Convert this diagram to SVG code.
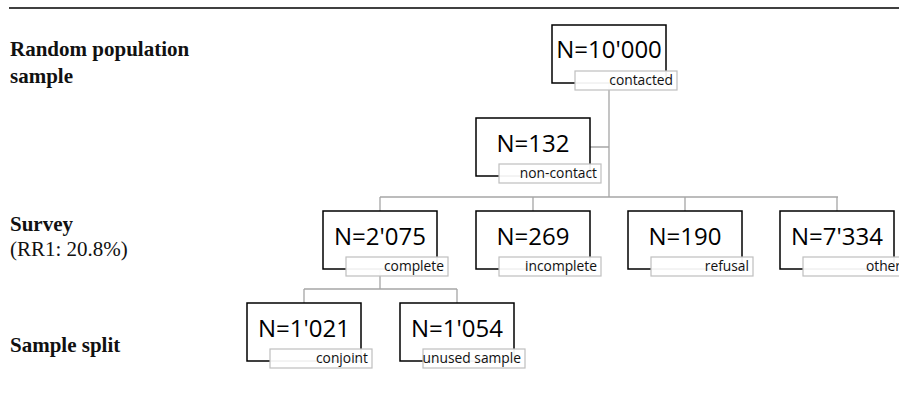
<svg xmlns="http://www.w3.org/2000/svg" width="899" height="406" viewBox="0 0 899 406">
<style>
.bg{fill:#fff}
.box{fill:#fff;stroke:#000;stroke-width:1.5}
.lab{fill:#fff;fill-opacity:0.94;stroke:#bfbfbf;stroke-width:1.2}
.n{font-family:"Open Sans","Liberation Sans",sans-serif;font-size:24px;fill:#000;text-anchor:middle}
.lt{font-family:"Open Sans","Liberation Sans",sans-serif;font-size:13.8px;fill:#111;text-anchor:end}
.side{font-family:"Liberation Serif",serif;font-size:21px;fill:#111}
.b{font-weight:bold}
.con{fill:none;stroke:#a6a6a6;stroke-width:1.3}
</style>
<rect class="bg" x="0" y="0" width="899" height="406"/>
<line x1="9" y1="8" x2="899" y2="8" stroke="#000" stroke-width="1.5"/>
<g id="side-labels">
<text class="side b" x="10" y="56">Random population</text>
<text class="side b" x="10" y="83">sample</text>
<text class="side b" x="10" y="231">Survey</text>
<text class="side" x="10" y="256">(RR1: 20.8%)</text>
<text class="side b" x="10" y="352">Sample split</text>
</g>
<g id="connectors">
<path class="con" d="M609 83 V197 M590 147 H609 M380 197 H838 M380 197 V211 M533 197 V211 M685 197 V211 M837 197 V211"/>
<path class="con" d="M380 269 V289 M304 289 H457 M304 289 V303 M457 289 V303"/>
</g>
<g id="node-contacted">
<rect class="box" x="552" y="25" width="114" height="58"/>
<text class="n" x="609" y="58">N=10'000</text>
<rect class="lab" x="575" y="71" width="102" height="19"/>
<text class="lt" x="673" y="85">contacted</text>
</g>
<g id="node-noncontact">
<rect class="box" x="476" y="118" width="114" height="58"/>
<text class="n" x="533" y="152">N=132</text>
<rect class="lab" x="499" y="164" width="102" height="19"/>
<text class="lt" x="597" y="178">non-contact</text>
</g>
<g id="node-complete">
<rect class="box" x="323" y="211" width="114" height="58"/>
<text class="n" x="380" y="245">N=2'075</text>
<rect class="lab" x="346" y="257" width="102" height="19"/>
<text class="lt" x="444" y="271">complete</text>
</g>
<g id="node-incomplete">
<rect class="box" x="476" y="211" width="114" height="58"/>
<text class="n" x="533" y="245">N=269</text>
<rect class="lab" x="499" y="257" width="102" height="19"/>
<text class="lt" x="597" y="271">incomplete</text>
</g>
<g id="node-refusal">
<rect class="box" x="628" y="211" width="114" height="58"/>
<text class="n" x="685" y="245">N=190</text>
<rect class="lab" x="651" y="257" width="102" height="19"/>
<text class="lt" x="749" y="271">refusal</text>
</g>
<g id="node-other">
<rect class="box" x="780" y="211" width="114" height="58"/>
<text class="n" x="837" y="245">N=7'334</text>
<rect class="lab" x="803" y="257" width="102" height="19"/>
<text class="lt" x="901" y="271">other</text>
</g>
<g id="node-conjoint">
<rect class="box" x="247" y="303" width="114" height="58"/>
<text class="n" x="304" y="337">N=1'021</text>
<rect class="lab" x="270" y="349" width="102" height="19"/>
<text class="lt" x="368" y="363">conjoint</text>
</g>
<g id="node-unused">
<rect class="box" x="400" y="303" width="114" height="58"/>
<text class="n" x="457" y="337">N=1'054</text>
<rect class="lab" x="423" y="349" width="102" height="19"/>
<text class="lt" x="521" y="363">unused sample</text>
</g>
</svg>
